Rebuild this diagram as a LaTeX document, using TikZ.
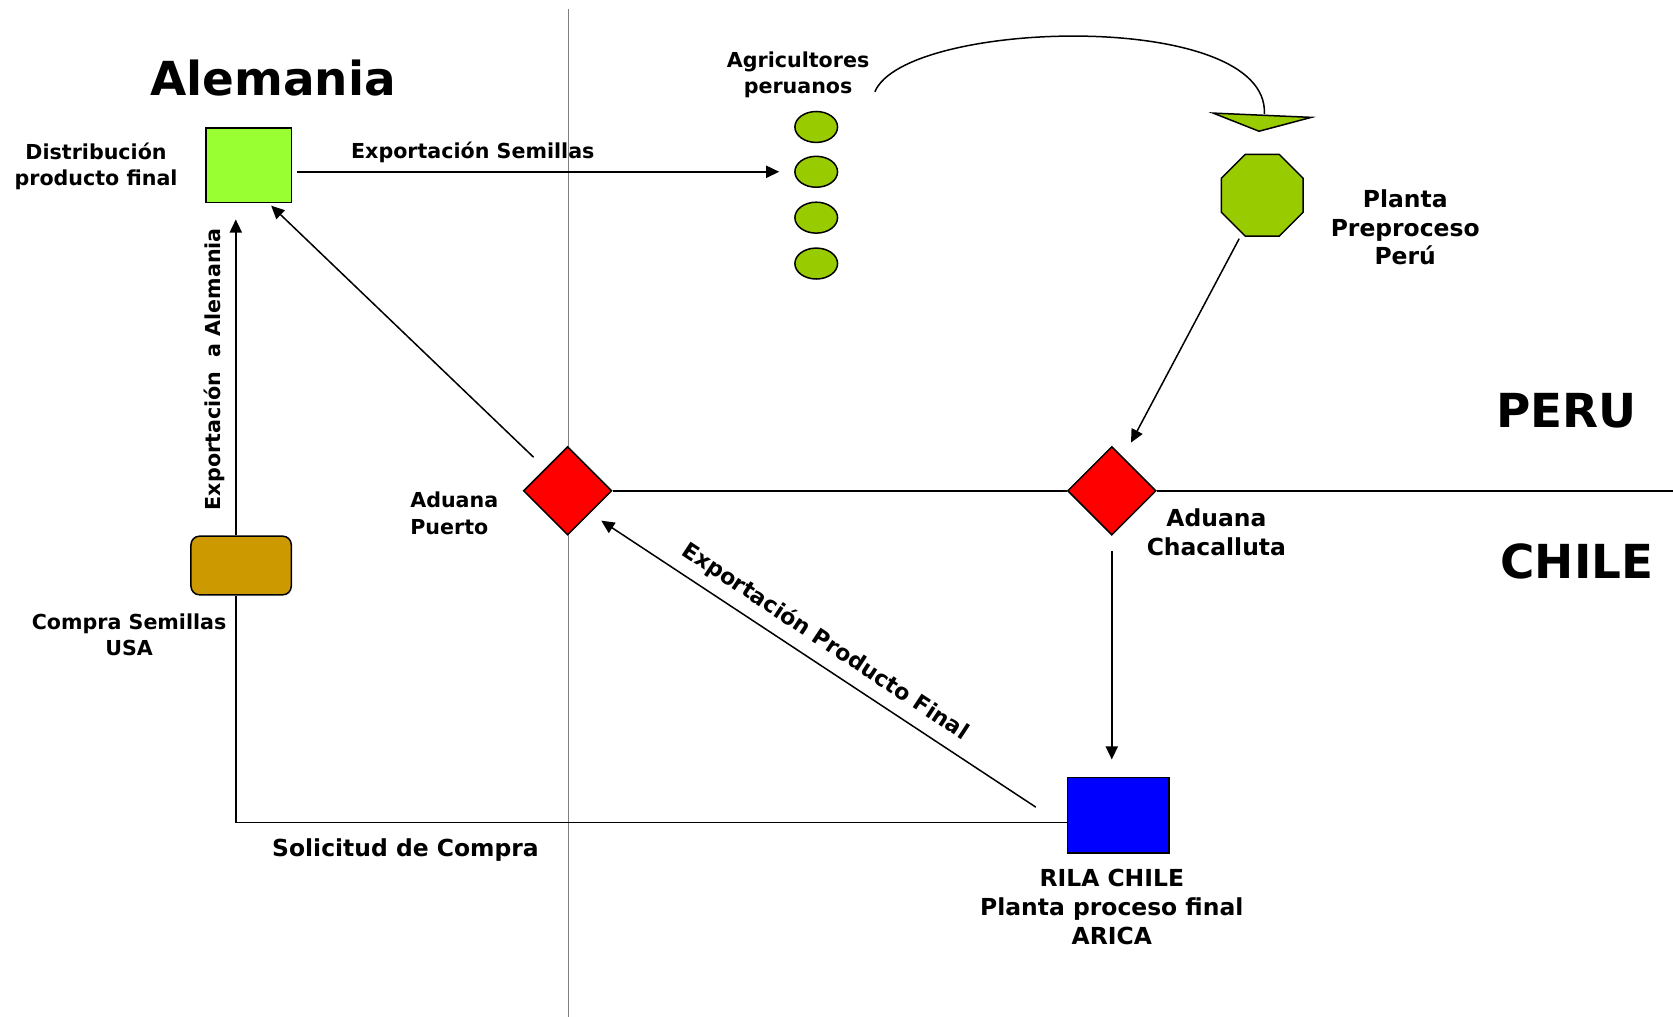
\documentclass[tikz,border=0pt]{standalone}
\usepackage{fontspec}
\setmainfont{DejaVu Sans}
\usetikzlibrary{shapes.geometric,arrows.meta}
\definecolor{verdeclaro}{HTML}{99FF33}
\definecolor{verdeoliva}{HTML}{99CC00}
\definecolor{ocre}{HTML}{CC9900}
\tikzset{
  lbl/.style={font=\bfseries\fontsize{11}{14}\selectfont, align=center},
  lblgr/.style={font=\bfseries\fontsize{12.5}{15.4}\selectfont, align=center},
  pais/.style={font=\bfseries\fontsize{25}{30}\selectfont},
  flecha/.style={-{Triangle[length=7pt,width=6.5pt]}},
  aduana/.style={diamond, draw, fill=red, inner sep=0pt, minimum size=1.66cm, aspect=1},
  agricultor/.style={ellipse, draw, fill=verdeoliva, minimum width=0.8cm, minimum height=0.58cm, inner sep=0pt}
}
\begin{document}
\begin{tikzpicture}[x=0.02cm,y=-0.02cm,line width=0.8pt]
   \useasboundingbox (0,0) rectangle (1568,953);
   \draw [gray,line width=0.8pt] (533,8) -- (533,953);
   \node [pais] (alemania) at (256,73) {Alemania};
   \node [pais] (peru) at (1468,385) {PERU};
   \node [pais] (chile) at (1478,526) {CHILE};
   \node [draw,fill=verdeclaro,minimum width=1.6cm,minimum height=1.4cm] (distrib) at (233,155) {};
   \node [lbl] (distriblbl) at (90,156) {Distribución\\producto final};
   \foreach \y [count=\i] in {119,161,204,247}
     \node [agricultor] (agr\i) at (765,\y) {};
   \node [lbl] (agrlbl) at (748,70) {Agricultores\\peruanos};
   \draw [flecha,shorten <=0.1cm,shorten >=0.28cm] (distrib.east |- agr2.west) -- node [lbl,above=1pt,pos=0.36] {Exportación Semillas} (agr2.west);
   \coordinate (curvaini) at (820,86);
   \coordinate (punta) at (1185,107);
   \draw (curvaini) .. controls (848,18) and (1190,8) .. (punta);
   \filldraw [fill=verdeoliva] (1137,106) -- (1229,110) -- (1180,123) -- cycle;
   \node [regular polygon,regular polygon sides=8,draw,fill=verdeoliva,minimum size=1.66cm,inner sep=0pt] (planta) at (1183,183) {};
   \node [lblgr] (plantalbl) at (1317,213) {Planta\\Preproceso\\Perú};
   \node [aduana] (puerto) at (532,460) {};
   \node [aduana] (chacalluta) at (1042,460) {};
   \node [lbl,align=left,anchor=west] (puertolbl) at (378,481) {Aduana\\Puerto};
   \node [lblgr] (chacallutalbl) at (1140,499) {Aduana\\Chacalluta};
   \coordinate (borde) at (1568,460);
   \draw (puerto.east) -- (chacalluta.west);
   \draw (chacalluta.east) -- (borde);
   \draw [flecha,shorten <=3pt] (planta) -- ([xshift=0.36cm,yshift=0.06cm]chacalluta.north);
   \node [draw,fill=blue,minimum width=1.9cm,minimum height=1.42cm] (rila) at (1048,764) {};
   \node [lblgr] (rilalbl) at (1042,850) {RILA CHILE\\Planta proceso final\\ARICA};
   \draw [flecha,shorten <=0.28cm,shorten >=0.32cm] (chacalluta.south) -- (chacalluta.south |- rila.north);
   \node [draw,fill=ocre,rounded corners=0.16cm,minimum width=1.88cm,minimum height=1.1cm] (compra) at (226,530) {};
   \node [lbl] (compralbl) at (121,595) {Compra Semillas\\USA};
   \coordinate (esquina) at (221,771);
   \draw (esquina -| rila.west) -- (esquina) -- (esquina |- compra.south);
   \node [lblgr] (solicitud) at (380,797) {Solicitud de Compra};
   \draw [flecha,shorten >=0.3cm] (esquina |- compra.north) -- (esquina |- distrib.south);
   \node [lbl,rotate=90] (expalem) at (201,346) {Exportación\ \ a Alemania};
   \draw [flecha,shorten <=0.3cm,shorten >=0.06cm] (puerto.north west) -- ([xshift=0.38cm]distrib.south);
   \draw [{Triangle[length=7pt,width=6.5pt]}-,shorten <=0.25cm] (puerto.south east) -- node [lbl,font=\bfseries\fontsize{11.8}{14}\selectfont,sloped,above=2pt,pos=0.5] {Exportación Producto Final} ([xshift=-0.58cm,yshift=0.15cm]rila.west);
\end{tikzpicture}
\end{document}
